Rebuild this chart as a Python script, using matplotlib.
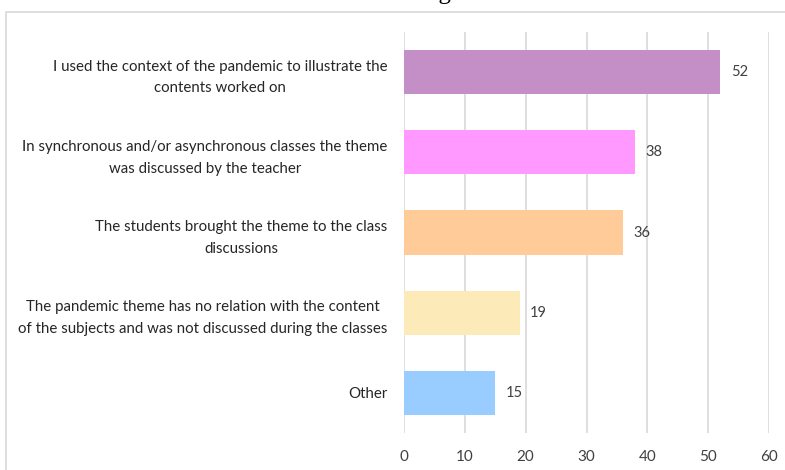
import matplotlib.pyplot as plt
from matplotlib.patches import Rectangle

# --- DATA ---
categories = [
    "I used the context of the pandemic to illustrate the\ncontents worked on",
    "In synchronous and/or asynchronous classes the theme\nwas discussed by the teacher",
    "The students brought the theme to the class\ndiscussions",
    "The pandemic theme has no relation with the content\nof the subjects and was not discussed during the classes",
    "Other",
]
values = [52, 38, 36, 19, 15]
colors = ["#C48EC6", "#FF99FF", "#FFCC99", "#FCEBB8", "#99CCFF"]
xticks = [0, 10, 20, 30, 40, 50, 60]

plt.rcParams['font.family'] = ['Lato', 'DejaVu Sans']

fig = plt.figure(figsize=(7.85, 4.7), dpi=100)
W, H = 785, 470

# outer chart border (Excel style), runs off the right and bottom edge
fig.patches.append(Rectangle((6 / W, -0.1), 1.2, 1 - 12 / H + 0.1,
                             transform=fig.transFigure, fill=False,
                             edgecolor="#D9D9D9", linewidth=1.2))

# title, almost entirely above the top edge of the image
fig.text(452 / W, 1 + 0.5 / H, "teaching", ha="right", va="baseline",
         family="Liberation Serif", fontsize=18, color="#000000")

ax = fig.add_axes([404 / W, 1 - 433 / H, (769 - 404) / W, (433 - 32) / H])

y = list(range(len(categories)))
ax.barh(y, values, color=colors, height=0.55, zorder=3)

for yi, v in zip(y, values):
    ax.text(v + 1.7, yi, str(v), va="center", ha="left",
            fontsize=10.5, color="#404040")

ax.set_xlim(0, 60)
ax.set_ylim(len(categories) - 0.5, -0.5)
ax.set_xticks(xticks)
ax.set_yticks(y)
ax.set_yticklabels(categories, fontsize=10.8, color="#262626")
for lbl in ax.get_yticklabels():
    lbl.set_multialignment("center")
    lbl.set_linespacing(1.7)
ax.tick_params(axis="y", length=0, pad=12)
ax.tick_params(axis="x", length=0, pad=12, labelsize=11, labelcolor="#404040")

ax.grid(axis="x", color="#D9D9D9", linewidth=1.2, zorder=0)
for side in ["top", "right", "bottom", "left"]:
    ax.spines[side].set_visible(False)

fig.savefig("out.png", dpi=100)
